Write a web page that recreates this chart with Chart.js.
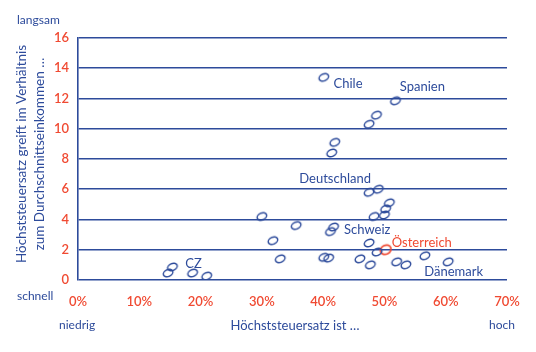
<!DOCTYPE html>
<html lang="de">
<head>
    <meta charset="UTF-8">
    <title>Höchststeuersatz</title>
    <script src="https://cdn.jsdelivr.net/npm/chart.js@4/dist/chart.umd.min.js"></script>
    <style>
        html, body { margin: 0; padding: 0; background: #fff; }
        #wrap { width: 536px; height: 352px; }
    </style>
</head>
<body>
    <div id="wrap">
        <canvas id="chart" width="536" height="352"></canvas>
    </div>
</body>
</html>

<script>
    // Höchststeuersatz in % / ab welchem Vielfachen des Durchschnittseinkommens er greift
    const taxRate = [40.1, 51.8, 47.5, 48.7, 41.9, 41.4,
        47.5, 49.0, 50.8, 50.2, 50.0, 48.3, 30.0, 35.6, 41.7, 41.2,
        31.8, 47.5, 48.8, 33.0, 40.1, 40.9, 46.0, 47.7, 52.0, 53.5,
        56.6, 60.4, 14.7, 15.4, 18.7, 21.0];
    const threshold = [13.4, 11.85, 10.3, 10.9, 9.1, 8.4,
        5.8, 6.0, 5.1, 4.7, 4.3, 4.2, 4.2, 3.6, 3.5, 3.2,
        2.6, 2.45, 1.85, 1.4, 1.5, 1.45, 1.4, 1.0, 1.2, 1.0,
        1.6, 1.2, 0.46, 0.86, 0.46, 0.26];

    const austriaRate = [50.2];
    const austriaThreshold = [2.0];

    const labelNames = ['Chile', 'Spanien', 'Deutschland', 'Schweiz', 'Österreich', 'Dänemark', 'CZ'];
    const labelX = [41.7, 52.5, 36.1, 43.4, 51.2, 56.5, 17.5];
    const labelY = [13.0, 12.8, 6.7, 3.3, 2.45, 0.53, 1.1];

    const xTicks = [0, 10, 20, 30, 40, 50, 60, 70];
    const yTicks = [0, 2, 4, 6, 8, 10, 12, 14, 16];

    const blue = '#2d4b9b';
    const red = '#f04a32';
    const font = 'Lato, "Open Sans", sans-serif';

    // hand-drawn looking tilted ellipse as point style
    function ellipseMark(color, rx, ry, lw) {
        const c = document.createElement('canvas');
        c.width = 16;
        c.height = 14;
        const g = c.getContext('2d');
        g.strokeStyle = color;
        g.lineWidth = lw;
        g.beginPath();
        g.ellipse(8, 7, rx, ry, -0.45, 0, Math.PI * 2);
        g.stroke();
        return c;
    }

    const textPlugin = {
        id: 'texts',
        afterDatasetsDraw(c) {
            const ctx = c.ctx;
            const xs = c.scales.x, ys = c.scales.y;
            ctx.save();
            ctx.textBaseline = 'middle';
            ctx.font = '13px ' + font;
            labelNames.forEach((name, i) => {
                ctx.fillStyle = name === 'Österreich' ? red : blue;
                ctx.textAlign = 'left';
                ctx.fillText(name, xs.getPixelForValue(labelX[i]), ys.getPixelForValue(labelY[i]));
            });

            ctx.fillStyle = blue;
            ctx.font = '12px ' + font;
            ctx.textAlign = 'left';
            ctx.fillText('langsam', 17, 20);
            ctx.fillText('schnell', 17, 296);
            ctx.fillText('niedrig', 59, 325);
            ctx.fillText('hoch', 489, 325);
            ctx.font = '13px ' + font;
            ctx.textAlign = 'center';
            ctx.fillText('Höchststeuersatz ist …', 295, 326);

            ctx.translate(0, 154);
            ctx.rotate(-Math.PI / 2);
            ctx.font = '13.5px ' + font;
            ctx.fillText('Höchststeuersatz greift im Verhältnis', 0, 22);
            ctx.fillText('zum Durchschnittseinkommen …', 0, 40);
            ctx.restore();
        }
    };

    new Chart(document.querySelector('#chart'), {
        type: 'scatter',
        data: {
            datasets: [
                {
                    data: taxRate.map((v, i) => ({ x: v, y: threshold[i] })),
                    pointStyle: ellipseMark(blue, 5, 3.4, 1.5),
                    borderColor: blue,
                    backgroundColor: blue
                },
                {
                    data: austriaRate.map((v, i) => ({ x: v, y: austriaThreshold[i] })),
                    pointStyle: ellipseMark(red, 5.5, 4.5, 1.7),
                    borderColor: red,
                    backgroundColor: red
                }
            ]
        },
        options: {
            responsive: false,
            animation: false,
            layout: { padding: { top: 38, right: 29, bottom: 0, left: 0 } },
            plugins: {
                legend: { display: false },
                tooltip: { enabled: false }
            },
            scales: {
                x: {
                    type: 'linear',
                    min: 0,
                    max: 70,
                    afterFit: s => { s.height = 72; },
                    afterBuildTicks: s => { s.ticks = xTicks.map(v => ({ value: v })); },
                    grid: { display: false, drawTicks: false },
                    border: { display: false },
                    ticks: {
                        padding: 14,
                        color: red,
                        font: { family: font, size: 13, weight: '600' },
                        callback: v => v + '%'
                    }
                },
                y: {
                    min: 0,
                    max: 16,
                    afterFit: s => { s.width = 78; },
                    afterBuildTicks: s => { s.ticks = yTicks.map(v => ({ value: v })); },
                    grid: { color: blue, lineWidth: 1.6, drawTicks: false },
                    border: { display: true, color: blue, width: 1.6 },
                    ticks: {
                        padding: 9,
                        color: red,
                        font: { family: font, size: 13, weight: '600' }
                    }
                }
            }
        },
        plugins: [textPlugin]
    });
</script>
